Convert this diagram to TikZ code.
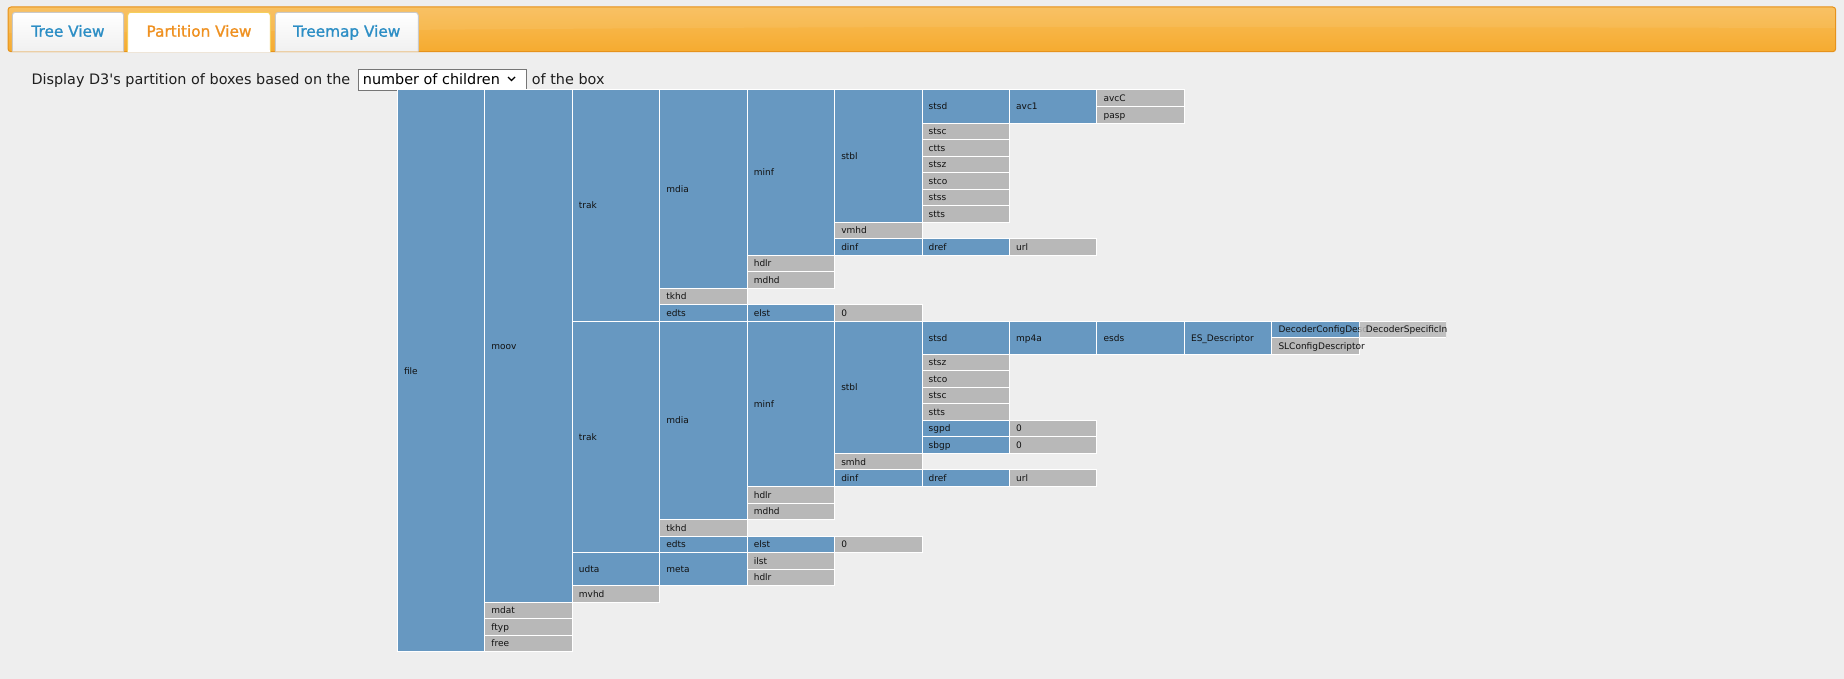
\documentclass[tikz,border=0pt]{standalone}
\usepackage{fontspec}
\setmainfont{DejaVu Sans}
\newfontfamily\lblfont{DejaVu Sans}
\newfontfamily\bodyfont[Ligatures=TeXOff]{DejaVu Sans}
\newfontfamily\tabfont[FakeBold=1.2]{DejaVu Sans}
\definecolor{bg}{HTML}{EEEEEE}
\definecolor{bluebox}{HTML}{6798C1}
\definecolor{graybox}{HTML}{B8B8B8}
\definecolor{txt}{HTML}{1E1E1E}
\definecolor{lbltxt}{HTML}{111111}
\definecolor{orTop}{HTML}{F8BD58}
\definecolor{orMid}{HTML}{F7B245}
\definecolor{orBot}{HTML}{F6AB30}
\definecolor{orBorder}{HTML}{E6921C}
\definecolor{tabBorder}{HTML}{C9C9C9}
\definecolor{tabGray}{HTML}{F0F0F0}
\definecolor{tabYellow}{HTML}{F5CF5C}
\definecolor{tabBlue}{HTML}{2C8EC5}
\definecolor{tabOrange}{HTML}{EF9121}
\definecolor{selBorder}{HTML}{767676}
\tikzset{
  bbox/.style={draw=white, line width=1pt, fill=bluebox, inner sep=0pt, outer sep=0pt},
  gbox/.style={draw=white, line width=1pt, fill=graybox, inner sep=0pt, outer sep=0pt},
  lbl/.style={anchor=base west, inner sep=0pt, text=lbltxt, font=\lblfont\fontsize{9}{10}\selectfont},
  bodytext/.style={anchor=base west, inner sep=0pt, text=txt, font=\bodyfont\fontsize{14.4}{17}\selectfont},
  tabtext/.style={anchor=base, inner sep=0pt, font=\tabfont\fontsize{15.3}{18}\selectfont},
}
\newcommand\bx[6]{%
  \node[#5, minimum width=87.45pt, minimum height=#4*16.52pt, anchor=north west] (#1) at ({397.3+#2*87.45},{90+#3*16.52}) {};
  \node[lbl] (#1t) at ([xshift=6.5pt,yshift=-3.3pt]#1.west) {#6};}
\begin{document}
\begin{tikzpicture}[x=1pt,y=-1pt]
\fill[bg] (0,0) rectangle (1844,679);
\useasboundingbox (0,0) rectangle (1844,679);
% header bar
\shade[rounded corners=3pt, top color=orTop, middle color=orMid, bottom color=orBot] (8,7) rectangle (1835.7,51.7);
\fill[white, opacity=0.07] (9,8) -- (1835,8) -- (1835,28) .. controls (900,26) .. (9,33) -- cycle;
\draw[orBorder, line width=1pt, rounded corners=3pt] (8,7) rectangle (1835.7,51.7);
% tabs
\path[draw=tabBorder, line width=1pt, top color=white, bottom color=tabGray, rounded corners=3pt] (12.3,51.7) -- (12.3,12.3) -- (123.7,12.3) -- (123.7,51.7);
\path[draw=tabYellow, line width=1pt, fill=white, rounded corners=3pt] (127.7,52.2) -- (127.7,12.3) -- (270.3,12.3) -- (270.3,52.2);
\fill[white] (128.2,50) rectangle (269.8,52.5);
\path[draw=tabBorder, line width=1pt, top color=white, bottom color=tabGray, rounded corners=3pt] (275.3,51.7) -- (275.3,12.3) -- (418.3,12.3) -- (418.3,51.7);
\node[tabtext, text=tabBlue] (tabTree) at (68,36.7) {Tree View};
\node[tabtext, text=tabOrange] (tabPart) at (199,36.7) {Partition View};
\node[tabtext, text=tabBlue] (tabMap) at (346.8,36.7) {Treemap View};
% description line
\node[bodytext] (desc) at (31.3,85) {Display D3's partition of boxes based on the};
\node[draw=selBorder, line width=1pt, fill=white, minimum width=167.7pt, minimum height=20.4pt, anchor=north west, inner sep=0pt] (sel) at (358.3,69.3) {};
\node[bodytext, text=black] (selt) at (362.7,85) {number of children};
\coordinate (chev) at (511.5,80.5);
\draw[line width=1.4pt, black] ([shift={(-3.5,-3.5)}]chev) -- (chev) -- ([shift={(3.5,-3.5)}]chev);
\node[bodytext] (tail) at (531.7,85) {of the box};
% partition
\bx{file}{0}{0}{34}{bbox}{file}
\bx{moov}{1}{0}{31}{bbox}{moov}
\bx{mdat}{1}{31}{1}{gbox}{mdat}
\bx{ftyp}{1}{32}{1}{gbox}{ftyp}
\bx{free}{1}{33}{1}{gbox}{free}
\bx{trakA}{2}{0}{14}{bbox}{trak}
\bx{trakB}{2}{14}{14}{bbox}{trak}
\bx{udta}{2}{28}{2}{bbox}{udta}
\bx{mvhd}{2}{30}{1}{gbox}{mvhd}
\bx{mdiaA}{3}{0}{12}{bbox}{mdia}
\bx{tkhdA}{3}{12}{1}{gbox}{tkhd}
\bx{edtsA}{3}{13}{1}{bbox}{edts}
\bx{mdiaB}{3}{14}{12}{bbox}{mdia}
\bx{tkhdB}{3}{26}{1}{gbox}{tkhd}
\bx{edtsB}{3}{27}{1}{bbox}{edts}
\bx{meta}{3}{28}{2}{bbox}{meta}
\bx{minfA}{4}{0}{10}{bbox}{minf}
\bx{hdlrA}{4}{10}{1}{gbox}{hdlr}
\bx{mdhdA}{4}{11}{1}{gbox}{mdhd}
\bx{elstA}{4}{13}{1}{bbox}{elst}
\bx{minfB}{4}{14}{10}{bbox}{minf}
\bx{hdlrB}{4}{24}{1}{gbox}{hdlr}
\bx{mdhdB}{4}{25}{1}{gbox}{mdhd}
\bx{elstB}{4}{27}{1}{bbox}{elst}
\bx{ilst}{4}{28}{1}{gbox}{ilst}
\bx{hdlrC}{4}{29}{1}{gbox}{hdlr}
\bx{stblA}{5}{0}{8}{bbox}{stbl}
\bx{vmhd}{5}{8}{1}{gbox}{vmhd}
\bx{dinfA}{5}{9}{1}{bbox}{dinf}
\bx{zeroA}{5}{13}{1}{gbox}{0}
\bx{stblB}{5}{14}{8}{bbox}{stbl}
\bx{smhd}{5}{22}{1}{gbox}{smhd}
\bx{dinfB}{5}{23}{1}{bbox}{dinf}
\bx{zeroB}{5}{27}{1}{gbox}{0}
\bx{stsdA}{6}{0}{2}{bbox}{stsd}
\bx{stscA}{6}{2}{1}{gbox}{stsc}
\bx{ctts}{6}{3}{1}{gbox}{ctts}
\bx{stszA}{6}{4}{1}{gbox}{stsz}
\bx{stcoA}{6}{5}{1}{gbox}{stco}
\bx{stss}{6}{6}{1}{gbox}{stss}
\bx{sttsA}{6}{7}{1}{gbox}{stts}
\bx{drefA}{6}{9}{1}{bbox}{dref}
\bx{stsdB}{6}{14}{2}{bbox}{stsd}
\bx{stszB}{6}{16}{1}{gbox}{stsz}
\bx{stcoB}{6}{17}{1}{gbox}{stco}
\bx{stscB}{6}{18}{1}{gbox}{stsc}
\bx{sttsB}{6}{19}{1}{gbox}{stts}
\bx{sgpd}{6}{20}{1}{bbox}{sgpd}
\bx{sbgp}{6}{21}{1}{bbox}{sbgp}
\bx{drefB}{6}{23}{1}{bbox}{dref}
\bx{avc}{7}{0}{2}{bbox}{avc1}
\bx{urlA}{7}{9}{1}{gbox}{url}
\bx{mpa}{7}{14}{2}{bbox}{mp4a}
\bx{zeroC}{7}{20}{1}{gbox}{0}
\bx{zeroD}{7}{21}{1}{gbox}{0}
\bx{urlB}{7}{23}{1}{gbox}{url}
\bx{avcC}{8}{0}{1}{gbox}{avcC}
\bx{pasp}{8}{1}{1}{gbox}{pasp}
\bx{esds}{8}{14}{2}{bbox}{esds}
\bx{esd}{9}{14}{2}{bbox}{ES\_Descriptor}
\bx{dcd}{10}{14}{1}{bbox}{DecoderConfigDesc}
\bx{slc}{10}{15}{1}{gbox}{SLConfigDescriptor}
\begin{scope}
\clip (1359.5,300) rectangle (1446.4,340);
\bx{dsi}{11}{14}{1}{gbox, fill opacity=0.85}{DecoderSpecificInfo}
\end{scope}
\end{tikzpicture}
\end{document}
